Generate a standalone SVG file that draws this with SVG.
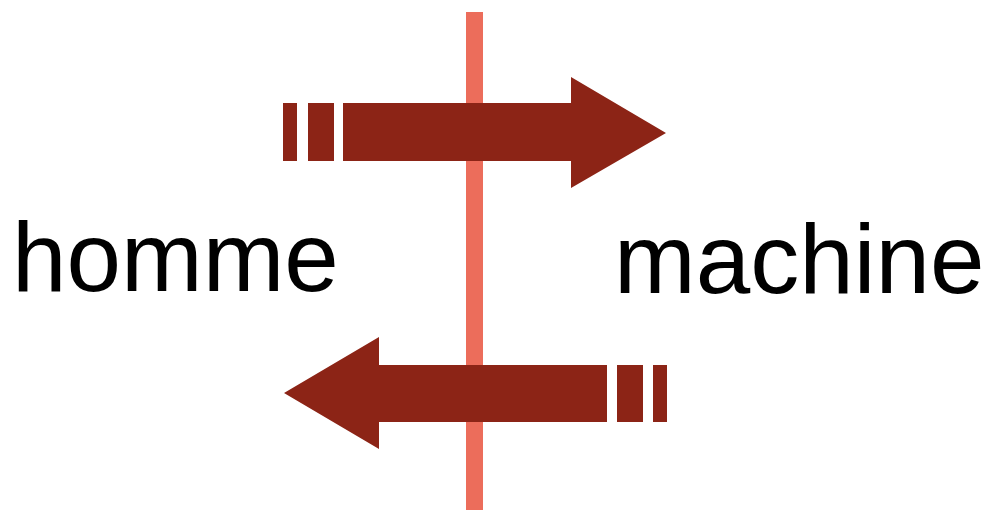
<svg xmlns="http://www.w3.org/2000/svg" width="989" height="510" viewBox="0 0 989 510">
  <style>
    .label { font-family: "Liberation Sans", Arial, sans-serif; font-size: 98px; fill: #000; }
    .arrow { fill: #8c2416; }
    .divider { fill: #ec6d5b; }
  </style>
  <rect width="989" height="510" fill="#fff"/>
  <g id="divider">
    <rect class="divider" x="466" y="12" width="17" height="498"/>
  </g>
  <g id="homme">
    <text class="label" x="12" y="291">homme</text>
  </g>
  <g id="machine">
    <text class="label" x="614" y="293">machine</text>
  </g>
  <g id="connectors">
    <g id="arrow-top">
      <rect class="arrow" x="283" y="103" width="14" height="58"/>
      <rect class="arrow" x="308" y="103" width="26" height="58"/>
      <polygon class="arrow" points="343,103 571,103 571,77 666,133 571,188 571,161 343,161"/>
    </g>
    <g id="arrow-bottom">
      <polygon class="arrow" points="607,365 379,365 379,337 284,393 379,449 379,422 607,422"/>
      <rect class="arrow" x="617" y="365" width="26" height="57"/>
      <rect class="arrow" x="653" y="365" width="14" height="57"/>
    </g>
  </g>
</svg>
